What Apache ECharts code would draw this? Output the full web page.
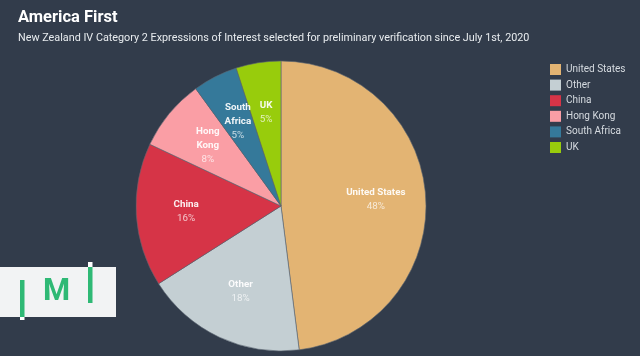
<!DOCTYPE html>
<html><head><meta charset="utf-8">
<script src="https://cdn.jsdelivr.net/npm/echarts@6/dist/echarts.min.js"></script>
<style>html,body{margin:0;padding:0;background:#323c4b}#c{width:640px;height:356px}</style>
</head><body><div id="c"></div>
<script>
const categories = ['United States','Other','China','Hong Kong','South Africa','UK'];
const sliceLabels = ['United States','Other','China','Hong\nKong','South\nAfrica','UK'];
const values = [48, 18, 16, 8, 5, 5];
const colors = ['#e3b473','#c4cfd3','#d63447','#fa9ea5','#35799a','#98cc0c'];

const chart = echarts.init(document.getElementById('c'), null, {renderer:'canvas'});
const font = 'Roboto, "Noto Sans", sans-serif';
const pieData = categories.map((n,i)=>({name:n, value:values[i], itemStyle:{color:colors[i]}}));
const labelData = categories.map((n,i)=>({name:n, value:values[i]}));
chart.setOption({
  backgroundColor:'#323c4b',
  animation:false,
  title:[
    {text:'America First', left:13, top:4, textStyle:{color:'#ffffff', fontSize:16.5, fontWeight:'bold', fontFamily:font}},
    {text:'New Zealand IV Category 2 Expressions of Interest selected for preliminary verification since July 1st, 2020', left:13, top:28, textStyle:{color:'#e8ecef', fontSize:10.8, fontWeight:'normal', fontFamily:font}}
  ],
  legend:{
    orient:'vertical', left:545, top:59, itemWidth:11, itemHeight:11, itemGap:4.6,
    icon:'rect', data:categories, itemStyle:{borderWidth:0},
    textStyle:{color:'#d6dbe0', fontSize:10, fontFamily:font, padding:[0,0,0,0]}
  },
  series:[
    {type:'pie', center:[281,206], radius:[0,145], startAngle:90, clockwise:true,
     data:pieData, label:{show:false}, labelLine:{show:false},
     itemStyle:{borderColor:'#5a6470', borderWidth:0.6}, emphasis:{disabled:true}},
    {type:'pie', center:[281,206], radius:[0,184], startAngle:90, clockwise:true, silent:true,
     legendHoverLink:false, data:labelData,
     itemStyle:{color:'rgba(0,0,0,0)', borderWidth:0}, emphasis:{disabled:true}, labelLine:{show:false},
     label:{show:true, position:'inside', fontFamily:font,
       formatter:(p)=>{ const l=sliceLabels[p.dataIndex].split('\n').map(s=>'{n|'+s+'}').join('\n'); return l+'\n{v|'+values[p.dataIndex]+'%}'; },
       rich:{n:{color:'rgba(255,255,255,0.92)', fontSize:9.8, fontWeight:'bold', lineHeight:14, fontFamily:font},
             v:{color:'rgba(255,255,255,0.72)', fontSize:9.8, lineHeight:14, fontFamily:font}}}}
  ],
  graphic:[
    {type:'rect', shape:{x:0,y:267,width:116,height:50}, style:{fill:'#f2f3f4'}},
    {type:'rect', shape:{x:20,y:280,width:4.5,height:37}, style:{fill:'#2fb975'}},
    {type:'rect', shape:{x:20,y:317,width:4.5,height:3}, style:{fill:'#ffffff'}},
    {type:'rect', shape:{x:88,y:267,width:4.5,height:36}, style:{fill:'#2fb975'}},
    {type:'rect', shape:{x:88,y:262,width:4.5,height:5}, style:{fill:'#ffffff'}},
    {type:'text', x:56.5, y:292, style:{text:'M', fill:'#2fb975', font:'bold 31px Roboto, sans-serif', align:'center', verticalAlign:'middle'}}
  ]
});
</script></body></html>
